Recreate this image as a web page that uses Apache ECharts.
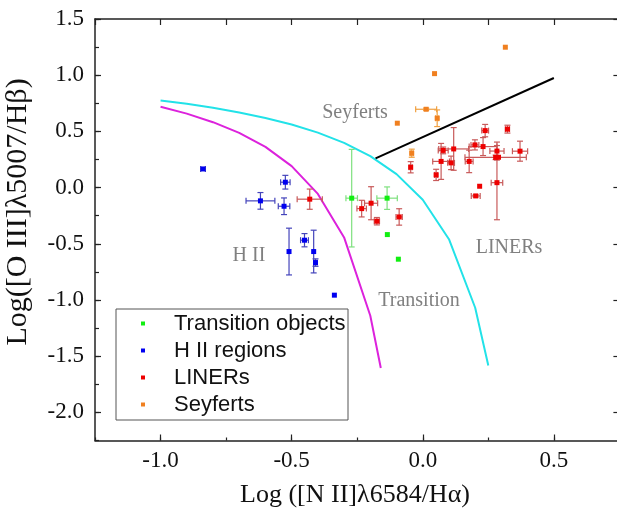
<!DOCTYPE html>
<html>
<head>
<meta charset="utf-8">
<script src="https://cdn.jsdelivr.net/npm/echarts@6/dist/echarts.min.js"></script>
<style>
  html, body { margin: 0; padding: 0; background: #fff; }
  #chart { width: 617px; height: 514px; }
</style>
</head>
<body>
<div id="chart"></div>
<script>
// ---- BPT diagnostic diagram: [N II]/Hα vs [O III]/Hβ ----

// Transition objects
const transX    = [-0.271, -0.136, -0.135, -0.093];
const transY    = [-0.094, -0.094, -0.418, -0.637];
const transXErr = [0.022, 0.039, 0, 0];
const transYErr = [0.434, 0.100, 0, 0];

// H II regions
const hiiX    = [-0.838, -0.524, -0.619, -0.529, -0.510, -0.451, -0.416, -0.409, -0.337];
const hiiY    = [0.166, 0.048, -0.118, -0.166, -0.569, -0.468, -0.569, -0.667, -0.957];
const hiiXErr = [0.009, 0.018, 0.055, 0.022, 0, 0.015, 0, 0.006, 0];
const hiiYErr = [0.005, 0.061, 0.074, 0.074, 0.208, 0.059, 0.190, 0.033, 0];

// LINERs
const linerX    = [-0.431, -0.233, -0.197, -0.175, -0.090, -0.046, 0.051, 0.070, 0.078, 0.108, 0.118, 0.177,
                   0.199, 0.230, 0.238, 0.283, 0.278, 0.289, 0.283, 0.323, 0.371, 0.217, 0.202];
const linerY    = [-0.103, -0.187, -0.139, -0.299, -0.261, 0.181, 0.113, 0.233, 0.331, 0.220, 0.344, 0.233,
                   0.380, 0.365, 0.507, 0.325, 0.269, 0.270, 0.044, 0.520, 0.324, 0.012, -0.074];
const linerXErr = [0.048, 0.018, 0.025, 0.010, 0.012, 0.006, 0.006, 0.032, 0.019, 0.013, 0.057, 0.015,
                   0.015, 0.053, 0.013, 0.027, 0.117, 0, 0.022, 0.008, 0.029, 0, 0.017];
const linerYErr = [0.090, 0.074, 0.147, 0.033, 0.073, 0.050, 0.050, 0.160, 0.030, 0.060, 0.190, 0.100,
                   0.045, 0.080, 0.055, 0.080, 0.020, 0, 0.330, 0.035, 0.089, 0, 0.010];

// Seyferts
const seyX    = [0.315, 0.045, 0.013, 0.055, -0.097, -0.042];
const seyY    = [1.249, 1.014, 0.697, 0.617, 0.573, 0.306];
const seyXErr = [0, 0, 0.040, 0.006, 0, 0.006];
const seyYErr = [0, 0, 0.010, 0.074, 0, 0.036];

// Demarcation curves
const kauffX = [-1.0, -0.9, -0.8, -0.7, -0.6, -0.5, -0.4, -0.3, -0.2, -0.16];
const kauffY = [0.719, 0.658, 0.582, 0.487, 0.362, 0.191, -0.056, -0.443, -1.140, -1.605];
const kewleyX = [-1.0, -0.9, -0.8, -0.7, -0.6, -0.5, -0.4, -0.3, -0.2, -0.1, 0.0, 0.1, 0.2, 0.25];
const kewleyY = [0.775, 0.745, 0.710, 0.669, 0.620, 0.561, 0.489, 0.398, 0.280, 0.120, -0.108, -0.459, -1.069, -1.583];
const seyLineX = [-0.18, 0.5];
const seyLineY = [0.26, 0.975];

// Axis tick labels
const xTickLabels = [-1.0, -0.5, 0.0, 0.5];
const yTickLabels = [-2.0, -1.5, -1.0, -0.5, 0.0, 0.5, 1.0, 1.5];

// Series names
const groupNames = ['Transition objects', 'H II regions', 'LINERs', 'Seyferts'];

// ---- layout ----
const XMIN = -1.25, XMAX = 0.75, YMIN = -2.25, YMAX = 1.5;
const GL = 95, GT = 19, GW = 524.4, GH = 421.5;
const pxPerX = GW / (XMAX - XMIN);
const pxPerY = GH / (YMAX - YMIN);

const serif = 'Liberation Serif, Times New Roman, serif';
const sans = 'Liberation Sans, Arial, sans-serif';
const frameColor = '#222';

function pairs(xs, ys) { return xs.map((x, i) => [x, ys[i]]); }
function isTick(list, v) { return list.some(t => Math.abs(t - v) < 1e-9); }

function errorBars(name, xs, ys, xe, ye, color) {
  return {
    type: 'custom',
    name: name,
    xAxisIndex: 0, yAxisIndex: 0,
    silent: true,
    z: 3,
    data: xs.map((x, i) => [x, ys[i], xe[i], ye[i]]),
    encode: { x: 0, y: 1 },
    renderItem: function (params, api) {
      const x = api.value(0), y = api.value(1), ex = api.value(2), ey = api.value(3);
      const cap = 3;
      const style = { stroke: color, lineWidth: 1.2, fill: null };
      const kids = [];
      if (ex > 0) {
        const a = api.coord([x - ex, y]), b = api.coord([x + ex, y]);
        kids.push({ type: 'line', shape: { x1: a[0], y1: a[1], x2: b[0], y2: b[1] }, style: style });
        kids.push({ type: 'line', shape: { x1: a[0], y1: a[1] - cap, x2: a[0], y2: a[1] + cap }, style: style });
        kids.push({ type: 'line', shape: { x1: b[0], y1: b[1] - cap, x2: b[0], y2: b[1] + cap }, style: style });
      }
      if (ey > 0) {
        const a = api.coord([x, y - ey]), b = api.coord([x, y + ey]);
        kids.push({ type: 'line', shape: { x1: a[0], y1: a[1], x2: b[0], y2: b[1] }, style: style });
        kids.push({ type: 'line', shape: { x1: a[0] - cap, y1: a[1], x2: a[0] + cap, y2: a[1] }, style: style });
        kids.push({ type: 'line', shape: { x1: b[0] - cap, y1: b[1], x2: b[0] + cap, y2: b[1] }, style: style });
      }
      return { type: 'group', children: kids };
    }
  };
}

function points(name, xs, ys, color) {
  return {
    type: 'scatter',
    name: name,
    xAxisIndex: 0, yAxisIndex: 0,
    symbol: 'rect',
    symbolSize: 5,
    z: 4,
    itemStyle: { color: color, opacity: 1 },
    data: pairs(xs, ys)
  };
}

function curve(xs, ys, color) {
  return {
    type: 'line',
    xAxisIndex: 0, yAxisIndex: 0,
    symbol: 'none',
    silent: true,
    z: 2,
    lineStyle: { color: color, width: 2 },
    data: pairs(xs, ys)
  };
}

const hiddenAxis = { show: false };

const option = {
  animation: false,
  backgroundColor: '#fff',
  grid: [
    { left: GL, top: GT, width: GW, height: GH, outerBoundsMode: 'none', containLabel: false },
    // major x ticks (span -1.0 .. 0.75)
    { left: GL + (-1.0 - XMIN) * pxPerX, top: GT, width: (XMAX + 1.0) * pxPerX, height: GH,
      outerBoundsMode: 'none', containLabel: false },
    // major y ticks (span -2.0 .. 1.5)
    { left: GL, top: GT, width: GW, height: (YMAX + 2.0) * pxPerY, outerBoundsMode: 'none', containLabel: false }
  ],
  xAxis: [
    {
      gridIndex: 0, type: 'value', position: 'bottom',
      min: XMIN, max: XMAX, interval: 0.25,
      axisLine: { onZero: false, lineStyle: { color: frameColor, width: 1.5 } },
      axisTick: { inside: true, length: 3, lineStyle: { color: frameColor, width: 1.2 } },
      axisLabel: {
        color: '#111', fontFamily: serif, fontSize: 23, margin: 9,
        showMinLabel: true, showMaxLabel: true,
        formatter: v => isTick(xTickLabels, v) ? v.toFixed(1) : ''
      },
      splitLine: { show: false }
    },
    {
      gridIndex: 0, type: 'value', position: 'top',
      min: XMIN, max: XMAX, interval: 0.25,
      axisLine: { onZero: false, lineStyle: { color: frameColor, width: 1.5 } },
      axisTick: { inside: true, length: 6, lineStyle: { color: frameColor, width: 1.2 } },
      axisLabel: { show: false },
      splitLine: { show: false }
    },
    {
      gridIndex: 1, type: 'value', position: 'bottom',
      min: -1.0, max: XMAX, interval: 0.5,
      axisLine: { show: false, onZero: false },
      axisTick: { inside: true, length: 6, lineStyle: { color: frameColor, width: 1.2 } },
      axisLabel: { show: false },
      splitLine: { show: false }
    },
    Object.assign({ gridIndex: 2, type: 'value', min: XMIN, max: XMAX }, hiddenAxis)
  ],
  yAxis: [
    {
      gridIndex: 0, type: 'value', position: 'left',
      min: YMIN, max: YMAX, interval: 0.25,
      axisLine: { onZero: false, lineStyle: { color: frameColor, width: 1.5 } },
      axisTick: { inside: true, length: 4, lineStyle: { color: frameColor, width: 1.2 } },
      axisLabel: {
        color: '#111', fontFamily: serif, fontSize: 23, margin: 11,
        showMinLabel: true, showMaxLabel: true,
        formatter: v => isTick(yTickLabels, v) ? v.toFixed(1) : ''
      },
      splitLine: { show: false }
    },
    {
      gridIndex: 0, type: 'value', position: 'right',
      min: YMIN, max: YMAX, interval: 0.25,
      axisLine: { onZero: false, lineStyle: { color: frameColor, width: 1.5 } },
      axisTick: { inside: true, length: 2, lineStyle: { color: frameColor, width: 1.2 } },
      axisLabel: { show: false },
      splitLine: { show: false }
    },
    Object.assign({ gridIndex: 1, type: 'value', min: YMIN, max: YMAX }, hiddenAxis),
    {
      gridIndex: 2, type: 'value', position: 'left',
      min: -2.0, max: YMAX, interval: 0.5,
      axisLine: { show: false, onZero: false },
      axisTick: { inside: true, length: 6, lineStyle: { color: frameColor, width: 1.2 } },
      axisLabel: { show: false },
      splitLine: { show: false }
    },
    {
      gridIndex: 2, type: 'value', position: 'right',
      min: -2.0, max: YMAX, interval: 0.5,
      axisLine: { show: false, onZero: false },
      axisTick: { inside: true, length: 6, lineStyle: { color: frameColor, width: 1.2 } },
      axisLabel: { show: false },
      splitLine: { show: false }
    }
  ],
  legend: {
    data: groupNames,
    orient: 'vertical',
    left: 141, top: 310,
    padding: 0,
    itemGap: 0,
    icon: 'rect',
    itemWidth: 4, itemHeight: 4,
    selectedMode: false,
    textStyle: { fontFamily: sans, fontSize: 22, color: '#111', lineHeight: 27, padding: [0, 0, 0, 24] }
  },
  graphic: [
    { type: 'rect', shape: { x: 116, y: 309, width: 232, height: 111 },
      style: { fill: 'none', stroke: '#555', lineWidth: 1 }, z: 10 },
    { type: 'text', x: 355, y: 113, style: { text: 'Seyferts', font: '20px ' + serif, fill: '#808080', textAlign: 'center', textVerticalAlign: 'middle' } },
    { type: 'text', x: 249, y: 256, style: { text: 'H II', font: '20px ' + serif, fill: '#808080', textAlign: 'center', textVerticalAlign: 'middle' } },
    { type: 'text', x: 509, y: 248, style: { text: 'LINERs', font: '20px ' + serif, fill: '#808080', textAlign: 'center', textVerticalAlign: 'middle' } },
    { type: 'text', x: 419, y: 301, style: { text: 'Transition', font: '20px ' + serif, fill: '#808080', textAlign: 'center', textVerticalAlign: 'middle' } },
    { type: 'text', x: 355, y: 495, style: { text: 'Log ([N II]\u03bb6584/H\u03b1)', font: '26px ' + serif, fill: '#111', textAlign: 'center', textVerticalAlign: 'middle' } },
    { type: 'text', x: 18, y: 212, rotation: Math.PI / 2, style: { text: 'Log([O III]\u03bb5007/H\u03b2)', font: '30px ' + serif, fill: '#111', textAlign: 'center', textVerticalAlign: 'middle' } }
  ],
  series: [
    curve(kewleyX, kewleyY, '#22e2e8'),
    curve(kauffX, kauffY, '#dc22dc'),
    curve(seyLineX, seyLineY, '#000000'),
    errorBars('err-trans', transX, transY, transXErr, transYErr, '#7ee07e'),
    errorBars('err-hii', hiiX, hiiY, hiiXErr, hiiYErr, '#4444bb'),
    errorBars('err-liner', linerX, linerY, linerXErr, linerYErr, '#c85a5a'),
    errorBars('err-sey', seyX, seyY, seyXErr, seyYErr, '#f0a040'),
    points(groupNames[0], transX, transY, '#11ee11'),
    points(groupNames[1], hiiX, hiiY, '#0000f0'),
    points(groupNames[2], linerX, linerY, '#ee0000'),
    points(groupNames[3], seyX, seyY, '#f08020')
  ]
};

const chart = echarts.init(document.getElementById('chart'));
chart.setOption(option);
</script>
</body>
</html>
